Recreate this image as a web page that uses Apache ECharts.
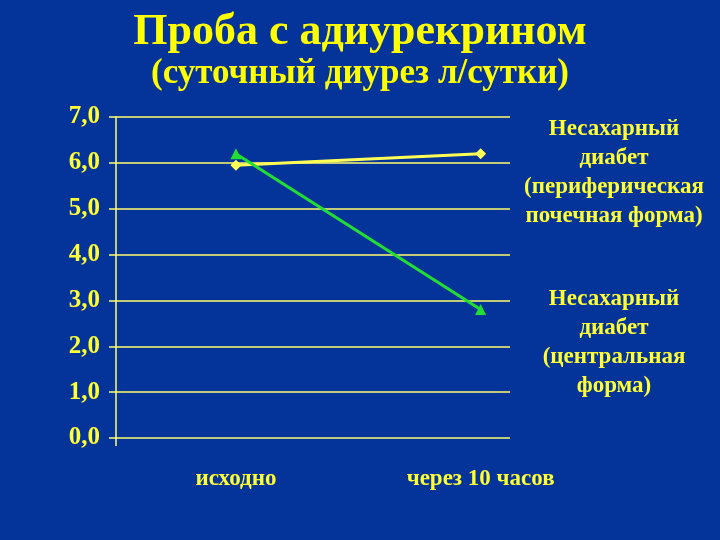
<!DOCTYPE html>
<html>
<head>
<meta charset="utf-8">
<script src="https://cdn.jsdelivr.net/npm/echarts@6/dist/echarts.min.js"></script>
<style>
  html, body { margin: 0; padding: 0; background: #043399; }
  #chart { width: 720px; height: 540px; }
</style>
</head>
<body>
<div id="chart"></div>
<script>
// данные
var categories = ['исходно', 'через 10 часов'];
var peripheral = [5.95, 6.2];   // периферическая почечная форма
var central = [6.2, 2.8];       // центральная форма
var yTicks = [0, 1, 2, 3, 4, 5, 6, 7];

var chart = echarts.init(document.getElementById('chart'));

var labelFont = {
  color: '#ffff33',
  fontFamily: 'Liberation Serif',
  fontWeight: 'bold'
};
var gridColor = '#ffff70';

function toPoints(arr) {
  return arr.map(function (v, i) { return [i, v]; });
}

var option = {
  backgroundColor: '#043399',
  animation: false,
  title: [{
    text: 'Проба с адиурекрином',
    left: 'center',
    top: 6,
    textStyle: { color: '#ffff00', fontFamily: 'Liberation Serif', fontWeight: 'bold', fontSize: 44 }
  }, {
    text: '(суточный диурез л/сутки)',
    left: 'center',
    top: 51,
    textStyle: { color: '#ffff00', fontFamily: 'Liberation Serif', fontWeight: 'bold', fontSize: 35 }
  }],
  grid: { left: 116, right: 210, top: 117, bottom: 102 },
  xAxis: {
    type: 'value',
    min: -0.49,
    max: 1.12,
    axisLine: { show: false },
    splitLine: { show: false },
    axisTick: { show: true, customValues: [-0.49], length: 8, lineStyle: { color: gridColor, width: 1.5 } },
    axisLabel: Object.assign({
      customValues: [0, 1],
      fontSize: 23,
      margin: 30,
      formatter: function (v) { return categories[Math.round(v)]; }
    }, labelFont)
  },
  yAxis: {
    type: 'value',
    min: yTicks[0],
    max: yTicks[yTicks.length - 1],
    interval: 1,
    axisLine: { show: true, onZero: false, lineStyle: { color: gridColor, width: 1.5 } },
    axisTick: { show: true, length: 7, lineStyle: { color: gridColor, width: 1.5 } },
    splitLine: { show: true, lineStyle: { color: gridColor, width: 1.5 } },
    axisLabel: Object.assign({
      fontSize: 25,
      margin: 16,
      formatter: function (v) { return v.toFixed(1).replace('.', ','); }
    }, labelFont)
  },
  series: [{
    name: 'периферическая',
    type: 'line',
    data: toPoints(peripheral),
    symbol: 'diamond',
    symbolSize: 11,
    lineStyle: { color: '#ffff55', width: 3 },
    itemStyle: { color: '#ffff55' }
  }, {
    name: 'центральная',
    type: 'line',
    data: toPoints(central),
    symbol: 'triangle',
    symbolSize: 11,
    lineStyle: { color: '#22dd33', width: 3 },
    itemStyle: { color: '#22dd33' }
  }],
  graphic: [{
    type: 'text',
    x: 614,
    y: 115,
    style: {
      text: 'Несахарный\nдиабет\n(периферическая\nпочечная форма)',
      fill: '#ffff33',
      font: 'bold 23px "Liberation Serif"',
      lineHeight: 29,
      align: 'center'
    }
  }, {
    type: 'text',
    x: 614,
    y: 285,
    style: {
      text: 'Несахарный\nдиабет\n(центральная\nформа)',
      fill: '#ffff33',
      font: 'bold 23px "Liberation Serif"',
      lineHeight: 29,
      align: 'center'
    }
  }]
};

chart.setOption(option);
</script>
</body>
</html>
